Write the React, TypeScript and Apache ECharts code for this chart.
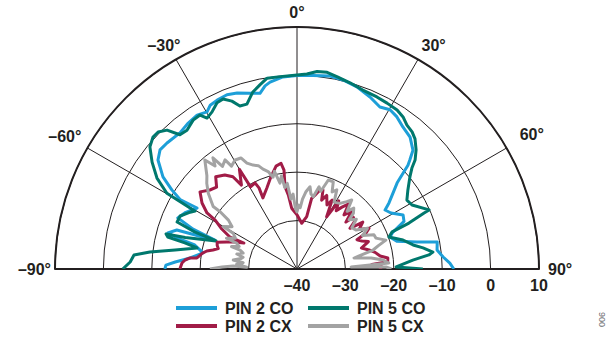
import React, { useEffect, useRef } from "react";
import * as echarts from "echarts";

// Radiation pattern, angle in degrees and level in dB: [angle, dB]
const PIN2_CO: [number, number][] = [
  [-90, -12.7], [-88.3, -12.9], [-86.7, -14.8], [-84.1, -17.8], [-80.3, -20.3], [-76.8, -18.3],
  [-75.5, -14.5], [-74.4, -12.3], [-72, -13.9], [-70.7, -22.0], [-69, -17], [-66.8, -13.2],
  [-63, -14.2], [-58.6, -15.8], [-59.3, -11.9], [-57.7, -9.4], [-55.5, -6.4], [-51.9, -3.5],
  [-49, -2.5], [-45.9, -2.6], [-40.7, -2.9], [-36.7, -2.4], [-33, -2.1], [-29.8, -2.6],
  [-27.9, -1.7], [-25.3, -1.4], [-21.9, -1.2], [-18.8, -1.6], [-15, -2.4], [-11.9, -2.9],
  [-9.9, -1.6], [-8.2, -1.0], [-4.2, -0.2], [0, 0], [4.7, 0.1], [9.7, 0.45], [13.7, 0.2],
  [18.2, -0.4], [23, -1.4], [27.1, -2.4], [30.3, -1.9], [33.3, -2.4], [36.7, -3.4], [40.6, -4.1],
  [44.3, -5.7], [46, -7.6], [46.9, -8.6], [49.3, -12.7], [54.3, -16.6], [56.2, -18.1],
  [59.2, -17.4], [63, -15.4], [66, -15.8], [69, -18.8], [71, -19.7], [74.4, -18.6], [77.3, -14.6],
  [79.1, -10.5], [82.3, -10.8], [85.3, -9.7], [87.8, -8.4], [90, -7.6],
];

const PIN5_CO: [number, number][] = [
  [-90, -4.0], [-87.6, -5.5], [-85.1, -6.2], [-83.4, -9.4], [-81.1, -14.5], [-78.1, -18.9],
  [-76.9, -16.2], [-76.1, -12.5], [-75, -12.0], [-74.3, -16.0], [-70.9, -22.3], [-70.1, -17.6],
  [-68.6, -13.4], [-65.6, -13.5], [-62, -15], [-60.4, -15.8], [-59.8, -8.9], [-57, -5.5],
  [-53.6, -2.8], [-50.3, -0.5], [-47.5, 0.35], [-45.4, 0.3], [-43.1, -0.7], [-41.1, -3.2],
  [-38.4, -3.4], [-34.9, -2.5], [-32.2, -2.4], [-30.8, -3.7], [-28.4, -3.1], [-25.7, -1.9],
  [-23.5, -1.7], [-21.2, -2.8], [-19.3, -4.3], [-16.9, -4.4], [-14, -2.3], [-11.4, -1.2],
  [-8.9, -0.1], [-5, -0.1], [0, 0.1], [2.9, 0.35], [5.8, 1.0], [8.7, 1.1], [11.7, 0.6],
  [15.9, 0.0], [20.2, -0.6], [24.9, -0.8], [28.5, -1.0], [32.2, -1.2], [34.9, -1.7], [37.4, -2.6],
  [40, -3.0], [42.2, -3.7], [45, -5.2], [47.3, -6.8], [48.7, -8.4], [50.8, -9.9], [54.6, -11.9],
  [57.9, -13.2], [60.9, -12.8], [65.9, -10.1], [66.2, -11.3], [67.7, -15.0], [68.7, -18.9],
  [70.8, -19.9], [74.7, -17.3], [78.3, -15.5], [80.5, -13.6], [82.9, -11.7], [83.9, -12.6],
  [85.6, -16.0], [88.8, -19.5], [90, -14],
];

const PIN2_CX: [number, number][] = [
  [-90, -15.8], [-87, -16.2], [-85.4, -16.8], [-84.1, -17.8], [-83.7, -19.2], [-80.5, -20.2],
  [-78.7, -21.0], [-77.3, -22.2], [-75.5, -23.2], [-73.5, -22.8], [-71.4, -22.6], [-69, -24.5],
  [-66.5, -26.0], [-64, -27.8], [-64.6, -24.7], [-62, -22.4], [-59.1, -20.3], [-58.1, -18.1],
  [-55.2, -16.1], [-51.5, -14.4], [-47.8, -15.7], [-44.5, -16.3], [-41.4, -14.6], [-37.5, -15.5],
  [-34.8, -16.8], [-33.5, -19.2], [-30, -16.2], [-29.5, -20.5], [-26, -20.2], [-25.1, -21.5],
  [-25.6, -23.7], [-20.3, -22.1], [-15.8, -20.2], [-11.5, -18.3], [-8.6, -17.9], [-7.5, -19.4],
  [-8.3, -22.8], [-6.7, -24.6], [-5, -27.4], [0, -28.8], [5.9, -30.5], [10.5, -29], [11.7, -25.1],
  [13.7, -24.3], [16.2, -23], [18.2, -22.8], [19.7, -24.9], [22, -23.6], [25.1, -25.4], [27, -24.0],
  [29.6, -27.6], [30.7, -25.8], [31.5, -23.5], [34, -25.5], [36, -24.2], [38.5, -22.8], [41, -25.2],
  [43.5, -23.6], [46.2, -26.0], [47.5, -24.2], [50.5, -24.6], [52.5, -26.2], [54.5, -23.3],
  [57.5, -24.8], [60.5, -22.9], [62.4, -23.9], [64, -26.2], [66.7, -25.4], [69, -24.2], [72, -26.0],
  [75.2, -24.6], [78, -23.5], [81.1, -22.6], [83.1, -21.1], [85.4, -21.2], [86.5, -24.5],
  [88.5, -22.5], [90, -23],
];

const PIN5_CX: [number, number][] = [
  [-90, -22], [-88.5, -24.5], [-87.3, -26.8], [-88, -29.6], [-85.5, -27.5], [-83.3, -28.8],
  [-82, -26.7], [-79.5, -28.2], [-77.7, -28.6], [-76, -27.2], [-73.5, -28.4], [-71.6, -27.6],
  [-71.1, -25.7], [-68.8, -27.2], [-66.9, -26.5], [-66.4, -24.1], [-63.5, -25.8], [-60.7, -24.9],
  [-60.1, -22.4], [-57, -24.0], [-54.5, -22.6], [-53.3, -20.2], [-53.3, -18.4], [-49.5, -15.9],
  [-46.5, -14.3], [-44, -13.2], [-40.2, -10.5], [-38.5, -12.8], [-37.1, -11.2], [-36, -13.8],
  [-33.4, -13], [-32.5, -14.8], [-29.6, -14.1], [-26.8, -14.3], [-25.3, -15.8], [-22.9, -16.7],
  [-20.5, -17.2], [-18.8, -18.2], [-16.5, -19.0], [-14.6, -20.4], [-13, -19.3], [-11.2, -21.9],
  [-9.5, -20.5], [-8.5, -23], [-6.5, -22.2], [-5, -25.5], [-3, -24.5], [-1.5, -27.5], [0, -28.2],
  [1.5, -26.8], [3, -27.3], [4.5, -25.5], [6.5, -24.0], [9, -22.8], [10.5, -24.2], [12.7, -24.7],
  [15, -22.4], [17, -23.2], [19.4, -20.5], [22.6, -20.5], [24.5, -22.5], [26.7, -21.7], [29, -24.2],
  [33.2, -23.8], [36.4, -22.7], [38.4, -21.8], [41, -24.2], [43, -22.8], [45.3, -23.6],
  [46.7, -25.2], [50, -24], [53, -25.8], [56.5, -25.4], [60, -23.2], [63, -24.8], [66, -22.6],
  [68.6, -22.5], [72, -20.7], [74, -22.5], [76, -23.8], [79.1, -28], [81.5, -24.5], [84, -22.1],
  [86.3, -21], [87.9, -28.8], [88.7, -21.6], [90, -20.5],
];

const SERIES_NAMES = ["PIN 2 CO", "PIN 5 CO", "PIN 2 CX", "PIN 5 CX"];
const SERIES_COLORS = ["#1d9fd8", "#00786d", "#a11c47", "#a3a3a3"];
const SERIES_DATA = [PIN2_CO, PIN5_CO, PIN2_CX, PIN5_CX];

const ANGLE_MIN = -90;
const ANGLE_MAX = 90;
const ANGLE_STEP = 30;
const DB_MIN = -40;
const DB_MAX = 10;
const DB_STEP = 10;

const INK = "#231f20";
const FONT = "'Liberation Sans', Arial, Helvetica, sans-serif";

const signed = (v: number) => (v < 0 ? "\u2013" + Math.abs(v) : String(v));

// legend slot for each series: [left, top]
const LEGEND_SLOTS: [number, number][] = [
  [176, 300],
  [308, 300],
  [176, 318],
  [308, 318],
];

// per-label nudges for the angle labels: padding [top, right, bottom, left]
const ANGLE_LABEL_PAD: Record<string, number[]> = {
  n90: [0, -3, 0, 0],
  n60: [0, 0, 0, 0],
  n30: [0, -8, 0, 0],
  z0: [0, 0, 0, 0],
  p30: [0, 0, 0, 0],
  p60: [0, 0, 2, 7],
  p90: [0, 0, 0, 2],
};
const labelKey = (v: number) => (v < 0 ? "n" + -v : v === 0 ? "z0" : "p" + v);

export default function App() {
  const ref = useRef<HTMLDivElement>(null);

  useEffect(() => {
    if (!ref.current) return;
    const chart = echarts.init(ref.current, undefined, { renderer: "svg" });
    const cx = 297;
    const cy = 269;
    const R = 242;

    const labelFont = {
      fontSize: 16,
      fontWeight: "bold" as const,
      color: INK,
      fontFamily: FONT,
    };

    const rich: Record<string, object> = {};
    Object.keys(ANGLE_LABEL_PAD).forEach((k) => {
      rich[k] = { ...labelFont, padding: ANGLE_LABEL_PAD[k] };
    });

    chart.setOption({
      animation: false,
      backgroundColor: "#ffffff",
      polar: { center: [cx, cy], radius: R },
      angleAxis: {
        type: "value",
        min: ANGLE_MIN,
        max: ANGLE_MAX,
        interval: ANGLE_STEP,
        startAngle: 180,
        endAngle: 0,
        clockwise: true,
        axisLine: { show: true, lineStyle: { color: INK, width: 2 } },
        axisTick: { show: false },
        splitLine: { show: true, lineStyle: { color: INK, width: 1 } },
        axisLabel: {
          ...labelFont,
          margin: 7,
          formatter: (v: number) => `{${labelKey(v)}|${signed(v)}\u00b0}`,
          rich,
        },
      },
      radiusAxis: {
        type: "value",
        min: DB_MIN,
        max: DB_MAX,
        interval: DB_STEP,
        axisLine: { show: true, lineStyle: { color: INK, width: 2 } },
        axisTick: { show: false },
        axisLabel: { show: false },
        splitLine: { show: true, lineStyle: { color: INK, width: 1 } },
      },
      grid: {
        left: cx,
        width: R,
        top: cy - 1,
        height: 1,
        outerBoundsMode: "none",
        containLabel: false,
      },
      xAxis: {
        type: "value",
        min: DB_MIN,
        max: DB_MAX,
        interval: DB_STEP,
        axisLine: { show: true, onZero: false, lineStyle: { color: INK, width: 2 } },
        axisTick: { show: false },
        splitLine: { show: false },
        axisLabel: {
          ...labelFont,
          margin: 8,
          formatter: (v: number) => signed(v),
        },
      },
      yAxis: { type: "value", show: false, min: 0, max: 1 },
      legend: SERIES_NAMES.map((name, i) => ({
        data: [name],
        left: LEGEND_SLOTS[i][0],
        top: LEGEND_SLOTS[i][1],
        icon: "rect",
        itemWidth: 41,
        itemHeight: 4,
        padding: 0,
        selectedMode: false,
        textStyle: { ...labelFont, padding: [0, 0, 0, 3] },
      })),
      graphic: [
        {
          type: "text",
          x: 597,
          y: 327,
          rotation: Math.PI / 2,
          style: { text: "006", fontSize: 9, fill: "#6d6e71", fontFamily: FONT },
        },
      ],
      series: SERIES_DATA.map((pts, i) => ({
        name: SERIES_NAMES[i],
        type: "line",
        coordinateSystem: "polar",
        symbol: "none",
        color: SERIES_COLORS[i],
        lineStyle: { width: 3, color: SERIES_COLORS[i], join: "round" },
        data: pts.map(([a, db]) => [db, a]),
        z: 3,
      })),
    });

    return () => chart.dispose();
  }, []);

  return (
    <div
      ref={ref}
      style={{ position: "fixed", left: 0, top: 0, width: 614, height: 337, background: "#fff" }}
    />
  );
}
